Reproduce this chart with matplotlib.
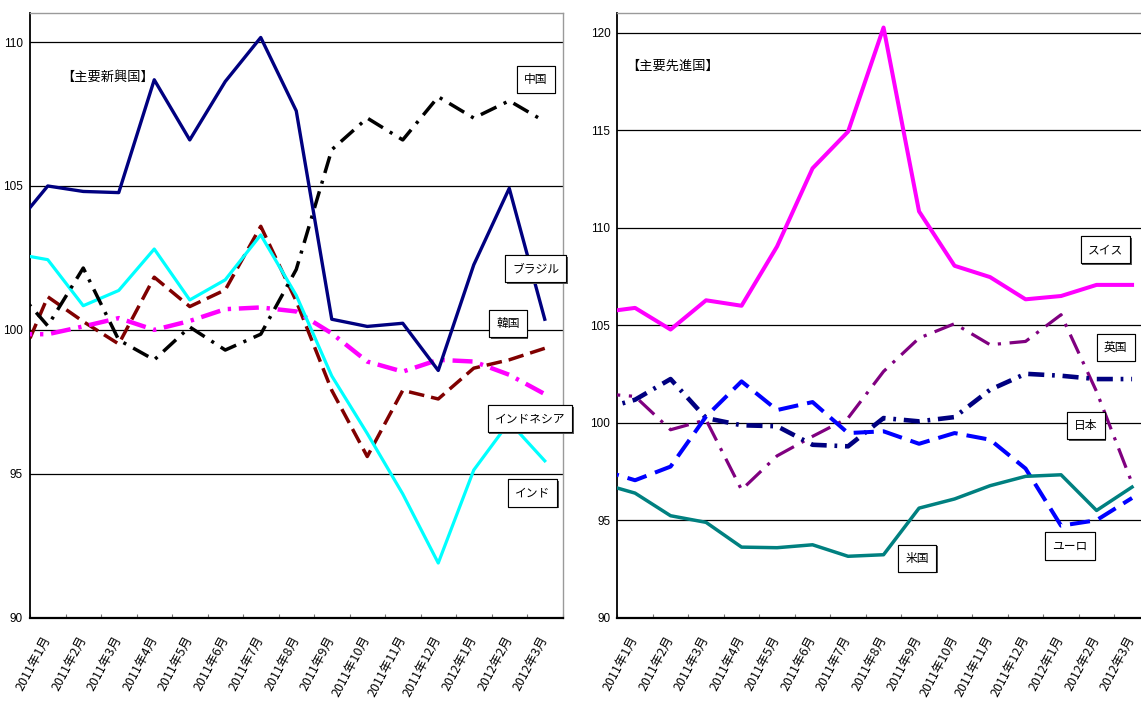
import matplotlib
matplotlib.use('Agg')
import matplotlib.pyplot as plt
import matplotlib.patheffects as pe
import numpy as np

plt.rcParams['font.family'] = ['Noto Sans CJK JP', 'DejaVu Sans']

months = ['2011年1月', '2011年2月', '2011年3月', '2011年4月', '2011年5月',
          '2011年6月', '2011年7月', '2011年8月', '2011年9月', '2011年10月',
          '2011年11月', '2011年12月', '2012年1月', '2012年2月', '2012年3月']

# first value of each series is 2010年12月 (only the part inside the axes shows)
china = [101.56, 100.14, 102.15, 99.65, 98.96, 100.1, 99.3, 99.85, 102.1,
         106.26, 107.36, 106.6, 108.1, 107.36, 107.96, 107.24]
brazil = [103.5, 105.0, 104.81, 104.77, 108.69, 106.6, 108.63, 110.16, 107.61,
          100.37, 100.12, 100.23, 98.59, 102.26, 104.92, 100.37]
korea = [98.27, 101.15, 100.29, 99.51, 101.83, 100.81, 101.39, 103.6, 101.0,
         97.9, 95.6, 97.9, 97.6, 98.67, 98.96, 99.36]
indonesia = [99.85, 99.85, 100.12, 100.41, 100.0, 100.31, 100.72, 100.78, 100.64,
             99.88, 98.9, 98.55, 98.96, 98.9, 98.44, 97.77]
india = [102.66, 102.44, 100.84, 101.37, 102.81, 101.04, 101.74, 103.3, 101.2,
         98.4, 96.4, 94.3, 91.9, 95.13, 96.8, 95.45]

swiss = [105.65, 105.89, 104.78, 106.28, 106.0, 109.04, 113.05, 114.93, 120.27,
         110.84, 108.05, 107.47, 106.33, 106.5, 107.07, 107.07]
uk = [101.5, 101.35, 99.64, 100.15, 96.56, 98.3, 99.3, 100.24, 102.63,
      104.34, 105.08, 104.0, 104.17, 105.54, 101.6, 96.9]
japan = [100.66, 101.18, 102.24, 100.24, 99.87, 99.82, 98.87, 98.79, 100.24,
         100.07, 100.29, 101.69, 102.51, 102.41, 102.24, 102.24]
euro = [97.6, 97.05, 97.75, 100.32, 102.12, 100.65, 101.06, 99.47, 99.56,
        98.92, 99.47, 99.13, 97.65, 94.72, 95.0, 96.14]
usa = [96.91, 96.39, 95.23, 94.89, 93.62, 93.59, 93.74, 93.15, 93.23,
       95.62, 96.09, 96.77, 97.25, 97.33, 95.5, 96.7]

x = np.arange(-1, len(months))

W, H = 1141, 701
fig = plt.figure(figsize=(W / 100, H / 100), dpi=100)
ax1 = fig.add_axes([30 / W, 83.3 / H, 532.5 / W, 604.4 / H])
ax2 = fig.add_axes([617.3 / W, 83.3 / H, 532.5 / W, 604.4 / H])


def setup(ax, ymax, yticks):
    ax.set_xlim(-0.5, len(months) - 0.5)
    ax.set_ylim(90, ymax)
    ax.set_yticks(yticks)
    ax.set_yticklabels([str(v) for v in yticks], family='Liberation Sans', fontsize=8.5)
    ax.tick_params(axis='y', length=0, pad=5)
    ax.set_xticks(np.arange(len(months)))
    ax.set_xticklabels(months, rotation=62, ha='right', va='center',
                       rotation_mode='anchor', fontsize=9)
    ax.tick_params(axis='x', which='major', length=0, pad=14)
    ax.set_xticks(np.arange(len(months) + 1) - 0.5, minor=True)
    ax.tick_params(axis='x', which='minor', direction='in', length=3,
                   width=0.8, color='#777777')
    for v in yticks[1:]:
        ax.axhline(v, color='black', lw=0.9, zorder=1)
    ax.spines['left'].set_linewidth(1.3)
    ax.spines['bottom'].set_linewidth(1.6)
    for s in ('top', 'right'):
        ax.spines[s].set_color('#9a9a9a')
        ax.spines[s].set_linewidth(1.0)


def tag(ax, xv, yv, label):
    t = ax.text(xv, yv, label, ha='center', va='center', fontsize=8.5, zorder=5,
                bbox=dict(boxstyle='square,pad=0.6', fc='white', ec='black', lw=0.8))
    t.get_bbox_patch().set_path_effects(
        [pe.withSimplePatchShadow(offset=(1.2, -1.2), shadow_rgbFace='#555555', alpha=1.0),
         pe.Normal()])


# 主要新興国
setup(ax1, 111, [90, 95, 100, 105, 110])
ax1.plot(x, korea, color='#800000', lw=2.5, dashes=(4.5, 2), zorder=3)
ax1.plot(x, indonesia, color='#ff00ff', lw=3.2, dashes=(4.5, 1.75, 0.75, 1.75), zorder=3)
ax1.plot(x, india, color='#00ffff', lw=2.3, zorder=3)
ax1.plot(x, china, color='black', lw=2.5, dashes=(5, 2.3, 0.9, 2.3), zorder=3)
ax1.plot(x, brazil, color='#000080', lw=2.4, zorder=4)
ax1.text(0.39, 108.76, '【主要新興国】', ha='left', va='center', fontsize=9.5)
tag(ax1, 13.75, 108.71, '中国')
tag(ax1, 13.74, 102.13, 'ブラジル')
tag(ax1, 12.96, 100.22, '韓国')
tag(ax1, 13.58, 96.91, 'インドネシア')
tag(ax1, 13.66, 94.33, 'インド')

# 主要先進国
setup(ax2, 121, [90, 95, 100, 105, 110, 115, 120])
ax2.plot(x, uk, color='#800080', lw=2.3, dashes=(6.5, 2.7, 1, 2.7), zorder=3)
ax2.plot(x, japan, color='#000080', lw=3.3, dashes=(3.5, 1.7, 0.6, 1.7), zorder=3)
ax2.plot(x, euro, color='#0000ff', lw=2.9, dashes=(5, 2.25), zorder=3)
ax2.plot(x, usa, color='#008080', lw=2.5, zorder=4)
ax2.plot(x, swiss, color='#ff00ff', lw=2.9, zorder=4)
ax2.text(-0.24, 118.27, '【主要先進国】', ha='left', va='center', fontsize=9.5)
tag(ax2, 13.25, 108.87, 'スイス')
tag(ax2, 13.54, 103.88, '英国')
tag(ax2, 12.70, 99.85, '日本')
tag(ax2, 12.25, 93.68, 'ユーロ')
tag(ax2, 7.95, 93.05, '米国')

fig.savefig('out.png', dpi=100)
